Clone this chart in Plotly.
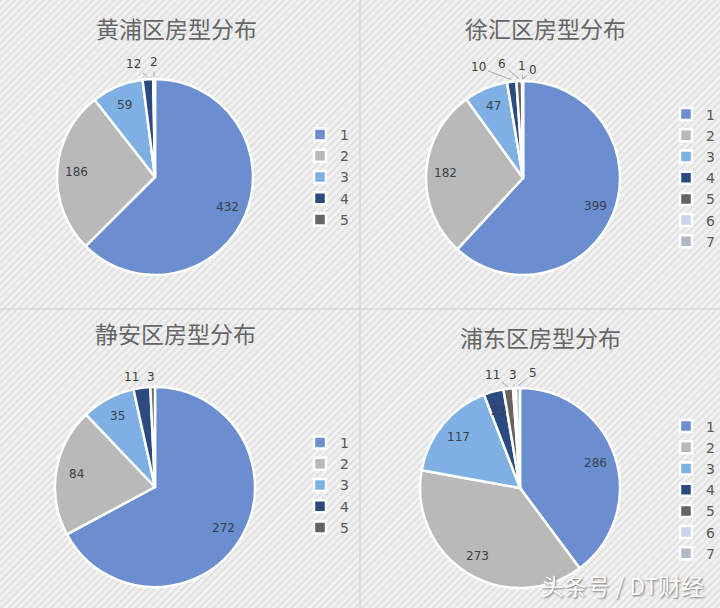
import math
import base64
import plotly.graph_objects as go

# ---- data ----
titles = ["黄浦区房型分布", "徐汇区房型分布", "静安区房型分布", "浦东区房型分布"]
labels5 = ["1", "2", "3", "4", "5"]
labels7 = ["1", "2", "3", "4", "5", "6", "7"]
huangpu = [432, 186, 59, 12, 2]
xuhui = [399, 182, 47, 10, 6, 1, 0]
jingan = [272, 84, 35, 11, 3]
pudong = [286, 273, 117, 23, 11, 3, 5]

colors = ["#6a8ed0", "#b9b9b9", "#7eb0e3", "#2b4a80", "#66625e", "#c9d6ea", "#aeb8c6"]

W, H = 720, 608

# layout: (values, labels, centre px, radius px, n inside labels, legend id, outside label positions px)
panels = [
    (huangpu, labels5, (155, 177), 98, 3, "legend", [(133, 64), (154, 62)]),
    (xuhui, labels7, (523, 178), 97, 3, "legend2", [(478, 67), (502, 64), (522, 66), (533, 70)]),
    (jingan, labels5, (155, 487), 100, 3, "legend3", [(131, 377), (151, 377)]),
    (pudong, labels7, (520, 488), 100, 4, "legend4", [(492, 375), (513, 375), (533, 373)]),
]

def dom(cx, cy, r):
    return dict(x=[(cx - r) / W, (cx + r) / W], y=[1 - (cy + r) / H, 1 - (cy - r) / H])

def px(x, y):
    return x / W, 1 - y / H

fig = go.Figure()
for k, (vals, labs, (cx, cy), r, n_in, lg, out_pos) in enumerate(panels):
    # unique (invisible) suffix so each pie keeps its own legend entries
    leg_labels = [l + "\u200b" * k for l in labs]
    fig.add_trace(go.Pie(
        values=vals, labels=leg_labels, sort=False, direction="clockwise", rotation=0,
        domain=dom(cx, cy, r),
        marker=dict(colors=colors[:len(vals)], line=dict(color="white", width=2.5)),
        textinfo="none",
        legend=lg, showlegend=True, hoverinfo="label+value",
    ))
    total = sum(vals)
    cum = 0
    for i, v in enumerate(vals):
        theta = 2 * math.pi * (cum + v / 2) / total
        cum += v
        if i < n_in:
            lx = cx + 0.8 * r * math.sin(theta)
            ly = cy - 0.8 * r * math.cos(theta)
            fx, fy = px(lx, ly)
            fig.add_annotation(text=str(v), x=fx, y=fy, xref="paper", yref="paper",
                               showarrow=False, xanchor="center", yanchor="middle",
                               font=dict(family="DejaVu Sans", size=12, color="#3a3f4a"))
        else:
            rx = cx + (r + 2) * math.sin(theta)
            ry = cy - (r + 2) * math.cos(theta)
            tx, ty = out_pos[i - n_in]
            fx, fy = px(rx, ry)
            fig.add_annotation(text=str(v), x=fx, y=fy, xref="paper", yref="paper",
                               ax=tx - rx, ay=ty - ry, axref="pixel", ayref="pixel",
                               showarrow=True, arrowhead=0, arrowwidth=0.8, arrowcolor="#9a9a9a",
                               standoff=0, startstandoff=1,
                               font=dict(family="DejaVu Sans", size=12, color="#404040"))

# diagonal hatched background (decoration)
svg = ('<svg xmlns="http://www.w3.org/2000/svg" width="720" height="608">'
       '<defs><pattern id="p" width="5" height="5" patternUnits="userSpaceOnUse" '
       'patternTransform="rotate(45)"><rect width="5" height="5" fill="#f1f1f1"/>'
       '<rect width="1.6" height="5" fill="#dedede"/></pattern></defs>'
       '<rect width="720" height="608" fill="url(#p)"/></svg>')
bg_src = "data:image/svg+xml;base64," + base64.b64encode(svg.encode()).decode()

legend_common = dict(bgcolor="rgba(0,0,0,0)", font=dict(family="DejaVu Sans", size=14, color="#595959"),
                     yanchor="middle", tracegroupgap=0, orientation="v")
fig.update_layout(
    width=W, height=H, margin=dict(l=0, r=0, t=0, b=0),
    paper_bgcolor="#ebebeb", plot_bgcolor="#ebebeb",
    images=[dict(source=bg_src, xref="paper", yref="paper", x=0, y=1, sizex=1, sizey=1,
                 xanchor="left", yanchor="top", sizing="stretch", layer="below")],
    legend=dict(x=300 / W, y=1 - 177 / H, xanchor="left", **legend_common),
    legend2=dict(x=1.0, y=1 - 178 / H, xanchor="right", **legend_common),
    legend3=dict(x=300 / W, y=1 - 485 / H, xanchor="left", **legend_common),
    legend4=dict(x=1.0, y=1 - 490 / H, xanchor="right", **legend_common),
)

title_pos = [(176, 28), (545, 28), (175, 333), (540, 337)]
for t, (x, y) in zip(titles, title_pos):
    fx, fy = px(x, y)
    fig.add_annotation(text=t, x=fx, y=fy, xref="paper", yref="paper",
                       showarrow=False, xanchor="center", yanchor="middle",
                       font=dict(family="Noto Sans CJK SC", size=23, color="#666666"))

fx, fy = px(706, 585)
fig.add_annotation(text="头条号 / DT财经", x=fx, y=fy, xref="paper", yref="paper",
                   showarrow=False, xanchor="right", yanchor="middle",
                   font=dict(family="Noto Sans CJK SC", size=23, color="white",
                             shadow="1px 1px 2px #777"))

# panel divider lines
fig.add_shape(type="line", xref="paper", yref="paper", x0=360 / W, x1=360 / W, y0=0, y1=1,
              line=dict(color="#d6d6d6", width=1.5))
fig.add_shape(type="line", xref="paper", yref="paper", x0=0, x1=1, y0=1 - 309 / H, y1=1 - 309 / H,
              line=dict(color="#d6d6d6", width=1.5))

fig.write_html("out.html", config={"displayModeBar": False},
               post_script="document.body.style.margin='0px';")
